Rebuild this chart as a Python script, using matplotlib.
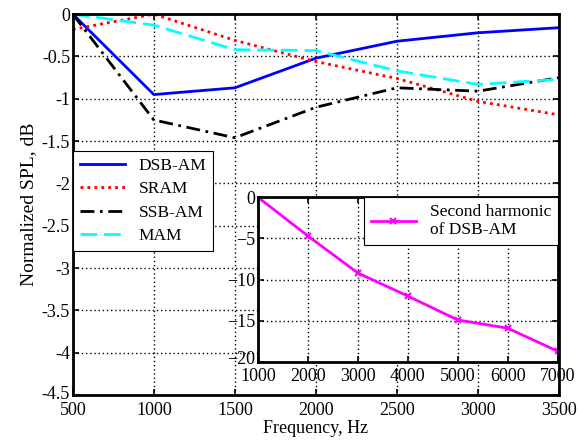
import matplotlib

matplotlib.use("Agg")
import matplotlib.pyplot as plt
import matplotlib.transforms as mtransforms

plt.rcParams["font.family"] = ["Liberation Serif", "DejaVu Serif"]
plt.rcParams["font.size"] = 13

freq = [500, 1000, 1500, 2000, 2500, 3000, 3500]
dsb_am = [0, -0.95, -0.87, -0.52, -0.32, -0.22, -0.16]
sram = [-0.18, 0, -0.31, -0.56, -0.76, -1.03, -1.19]
ssb_am = [0, -1.25, -1.46, -1.10, -0.87, -0.91, -0.75]
mam = [0, -0.13, -0.42, -0.43, -0.67, -0.83, -0.77]

harm_freq = [1000, 2000, 3000, 4000, 5000, 6000, 7000]
harm_dsb = [0, -4.7, -9.2, -12.0, -14.9, -15.9, -18.7]


def style_axes(ax, xpad):
    ax.grid(True, color="black", linestyle=(0, (1, 2)), linewidth=1.0)
    ax.tick_params(direction="in", length=4, width=1.2, top=True, right=True)
    ax.tick_params(axis="y", pad=2)
    ax.tick_params(axis="x", pad=xpad)
    for s in ax.spines.values():
        s.set_linewidth(2)


def lift_bottom_label(fig, ax, px):
    # nudge the lowest y tick label up so it clears the x labels
    fig.canvas.draw()
    lab = ax.get_yticklabels()[-1]
    off = mtransforms.ScaledTranslation(0, px / 100, fig.dpi_scale_trans)
    lab.set_transform(lab.get_transform() + off)


fig = plt.figure(figsize=(5.78, 4.42), dpi=100)
ax = fig.add_axes([0.126, 0.106, 0.841, 0.862])
ax.plot(freq, dsb_am, color="blue", linewidth=2, label="DSB-AM")
ax.plot(freq, sram, color="red", linewidth=2, linestyle=(0, (1, 1.5)), label="SRAM")
ax.plot(freq, ssb_am, color="black", linewidth=2, linestyle=(0, (5, 2, 1, 2)), label="SSB-AM")
ax.plot(freq, mam, color="cyan", linewidth=2, linestyle=(0, (6, 2.5)), label="MAM")
ax.set_xlim(500, 3500)
ax.set_ylim(-4.5, 0)
ax.set_xticks(freq)
ax.set_yticks([0, -0.5, -1, -1.5, -2, -2.5, -3, -3.5, -4, -4.5])
ax.set_yticklabels(["0", "-0.5", "-1", "-1.5", "-2", "-2.5", "-3", "-3.5", "-4", "-4.5"])
ax.set_xlabel("Frequency, Hz", labelpad=1)
ax.set_ylabel("Normalized SPL, dB", labelpad=3, fontsize=14)
style_axes(ax, 5)
leg = ax.legend(loc="upper left", bbox_to_anchor=(0, 0.64), borderaxespad=0,
                fancybox=False, edgecolor="black", framealpha=1,
                handlelength=2.6, labelspacing=0.4, fontsize=12.5)
leg.get_frame().set_linewidth(0.8)

ins = fig.add_axes([0.446, 0.181, 0.519, 0.373])
ins.plot(harm_freq, harm_dsb, color="magenta", linewidth=2, marker="x",
         markersize=5, markeredgewidth=1.5, label="Second harmonic\nof DSB-AM")
ins.set_xlim(1000, 7000)
ins.set_ylim(-20, 0)
ins.set_xticks(harm_freq)
ins.set_yticks([0, -5, -10, -15, -20])
style_axes(ins, 4)
leg2 = ins.legend(loc="upper right", borderaxespad=0, fancybox=False,
                  edgecolor="black", framealpha=1, handlelength=2.6,
                  labelspacing=0.1, fontsize=12.5)
leg2.get_frame().set_linewidth(0.8)

lift_bottom_label(fig, ax, 3)
lift_bottom_label(fig, ins, 4)

fig.savefig("out.png", dpi=100)
